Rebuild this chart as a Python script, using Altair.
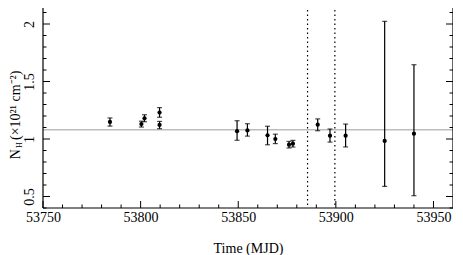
import altair as alt
import pandas as pd

# Data
times = [53784.3, 53800.4, 53802.0, 53809.7, 53809.7, 53849.4, 53854.7, 53865.0,
         53869.0, 53876.0, 53878.0, 53890.7, 53897.0, 53905.0, 53925.0, 53940.0]
nh = [1.148, 1.130, 1.180, 1.122, 1.230, 1.068, 1.075, 1.032,
      1.000, 0.951, 0.959, 1.124, 1.029, 1.029, 0.983, 1.046]
nh_lo = [1.112, 1.104, 1.150, 1.090, 1.189, 0.989, 1.025, 0.950,
         0.960, 0.922, 0.930, 1.072, 0.973, 0.931, 0.588, 0.507]
nh_hi = [1.183, 1.155, 1.211, 1.153, 1.273, 1.159, 1.133, 1.111,
         1.042, 0.979, 0.988, 1.175, 1.087, 1.130, 2.023, 1.646]

mean_nh = [1.08]
vlines = [53885.5, 53899.5]

x_major = [53750, 53800, 53850, 53900, 53950]
x_minor = [v for v in range(53760, 53960, 10) if v % 50 != 0]
y_major = [0.5, 1.0, 1.5, 2.0]
y_minor = [round(0.4 + 0.1 * i, 1) for i in range(0, 19)]
y_minor = [v for v in y_minor if round(v * 10) % 5 != 0]

W, H = 410, 207
FONT = "Liberation Serif, Times New Roman, serif"

df = pd.DataFrame({"t": times, "nh": nh, "lo": nh_lo, "hi": nh_hi})

xs = alt.Scale(domain=[53750, 53960], nice=False, zero=False)
ys = alt.Scale(domain=[0.4, 2.2], nice=False, zero=False)

x_axis = alt.Axis(values=x_major, format="d", ticks=False, tickSize=0, domain=False, grid=False,
                  labelFont=FONT, labelFontSize=14, labelColor="black", labelPadding=2,
                  title="Time (MJD)", titleFont=FONT, titleFontSize=14, titleFontWeight="normal",
                  titleColor="black", titlePadding=17, labelFlush=False)
y_axis = alt.Axis(values=y_major, format="~g", ticks=False, tickSize=0, domain=False, grid=False,
                  labelFont=FONT, labelFontSize=14, labelColor="black", labelAngle=270,
                  labelAlign="center", labelBaseline="alphabetic", labelPadding=10,
                  title=None, labelFlush=False)

base = alt.Chart(df)

hline = alt.Chart(pd.DataFrame({"v": mean_nh})).mark_rule(color="#bdbdbd", strokeWidth=1.5).encode(
    y=alt.Y("v:Q", scale=ys, axis=y_axis))

vl = alt.Chart(pd.DataFrame({"v": vlines})).mark_rule(color="black", strokeWidth=1.2, strokeDash=[1.5, 3]).encode(
    x=alt.X("v:Q", scale=xs, axis=x_axis))

bars = base.mark_rule(color="black", strokeWidth=1.2).encode(
    x=alt.X("t:Q", scale=xs, axis=x_axis), y=alt.Y("lo:Q", scale=ys, axis=y_axis), y2="hi:Q")
cap_lo = base.mark_tick(color="black", orient="horizontal", size=5, thickness=1.2).encode(
    x=alt.X("t:Q", scale=xs), y=alt.Y("lo:Q", scale=ys))
cap_hi = base.mark_tick(color="black", orient="horizontal", size=5, thickness=1.2).encode(
    x=alt.X("t:Q", scale=xs), y=alt.Y("hi:Q", scale=ys))
pts = base.mark_point(filled=True, shape="circle", color="black", size=18, opacity=1).encode(
    x=alt.X("t:Q", scale=xs), y=alt.Y("nh:Q", scale=ys))

# Frame (four edges)
one = pd.DataFrame({"a": [0]})
fr = dict(color="black", strokeWidth=1.2)
frame = [
    alt.Chart(one).mark_rule(**fr).encode(x=alt.value(0), x2=alt.value(W), y=alt.value(0)),
    alt.Chart(one).mark_rule(**fr).encode(x=alt.value(0), x2=alt.value(W), y=alt.value(H)),
    alt.Chart(one).mark_rule(**fr).encode(y=alt.value(0), y2=alt.value(H), x=alt.value(0)),
    alt.Chart(one).mark_rule(**fr).encode(y=alt.value(0), y2=alt.value(H), x=alt.value(W)),
]

# Inward ticks on all four sides
xmaj = pd.DataFrame({"v": x_major})
xmin = pd.DataFrame({"v": x_minor})
ymaj = pd.DataFrame({"v": y_major})
ymin = pd.DataFrame({"v": y_minor})
tk = dict(color="black", strokeWidth=1)
ticks = [
    alt.Chart(xmaj).mark_rule(**tk).encode(x=alt.X("v:Q", scale=xs), y=alt.value(H), y2=alt.value(H - 7)),
    alt.Chart(xmaj).mark_rule(**tk).encode(x=alt.X("v:Q", scale=xs), y=alt.value(0), y2=alt.value(7)),
    alt.Chart(xmin).mark_rule(**tk).encode(x=alt.X("v:Q", scale=xs), y=alt.value(H), y2=alt.value(H - 3.5)),
    alt.Chart(xmin).mark_rule(**tk).encode(x=alt.X("v:Q", scale=xs), y=alt.value(0), y2=alt.value(3.5)),
    alt.Chart(ymaj).mark_rule(**tk).encode(y=alt.Y("v:Q", scale=ys), x=alt.value(0), x2=alt.value(7)),
    alt.Chart(ymaj).mark_rule(**tk).encode(y=alt.Y("v:Q", scale=ys), x=alt.value(W), x2=alt.value(W - 7)),
    alt.Chart(ymin).mark_rule(**tk).encode(y=alt.Y("v:Q", scale=ys), x=alt.value(0), x2=alt.value(3.5)),
    alt.Chart(ymin).mark_rule(**tk).encode(y=alt.Y("v:Q", scale=ys), x=alt.value(W), x2=alt.value(W - 3.5)),
]

# Y title with subscript / superscripts
TX = -27
ttl_n = alt.Chart(one).mark_text(text="N", font=FONT, fontSize=14, angle=270, align="right",
                                 baseline="middle", color="black").encode(
    x=alt.value(TX), y=alt.value(148))
ttl_h = alt.Chart(one).mark_text(text="H", font=FONT, fontSize=8, angle=270, align="left",
                                 baseline="middle", color="black").encode(
    x=alt.value(TX + 4), y=alt.value(147))
ttl_rest = alt.Chart(one).mark_text(text="(×10²¹ cm⁻²)", font=FONT, fontSize=14, angle=270, align="left",
                                    baseline="middle", color="black").encode(
    x=alt.value(TX), y=alt.value(139))

chart = alt.layer(hline, vl, bars, cap_lo, cap_hi, pts, *ticks, *frame, ttl_n, ttl_h, ttl_rest).properties(
    width=W, height=H, autosize=alt.AutoSizeParams(type="none"),
    padding={"left": 35, "top": -7, "right": 0, "bottom": 50},
    background="white"
).configure_view(stroke=None)

chart.save("out.html", embed_options={"renderer": "svg", "actions": False})
